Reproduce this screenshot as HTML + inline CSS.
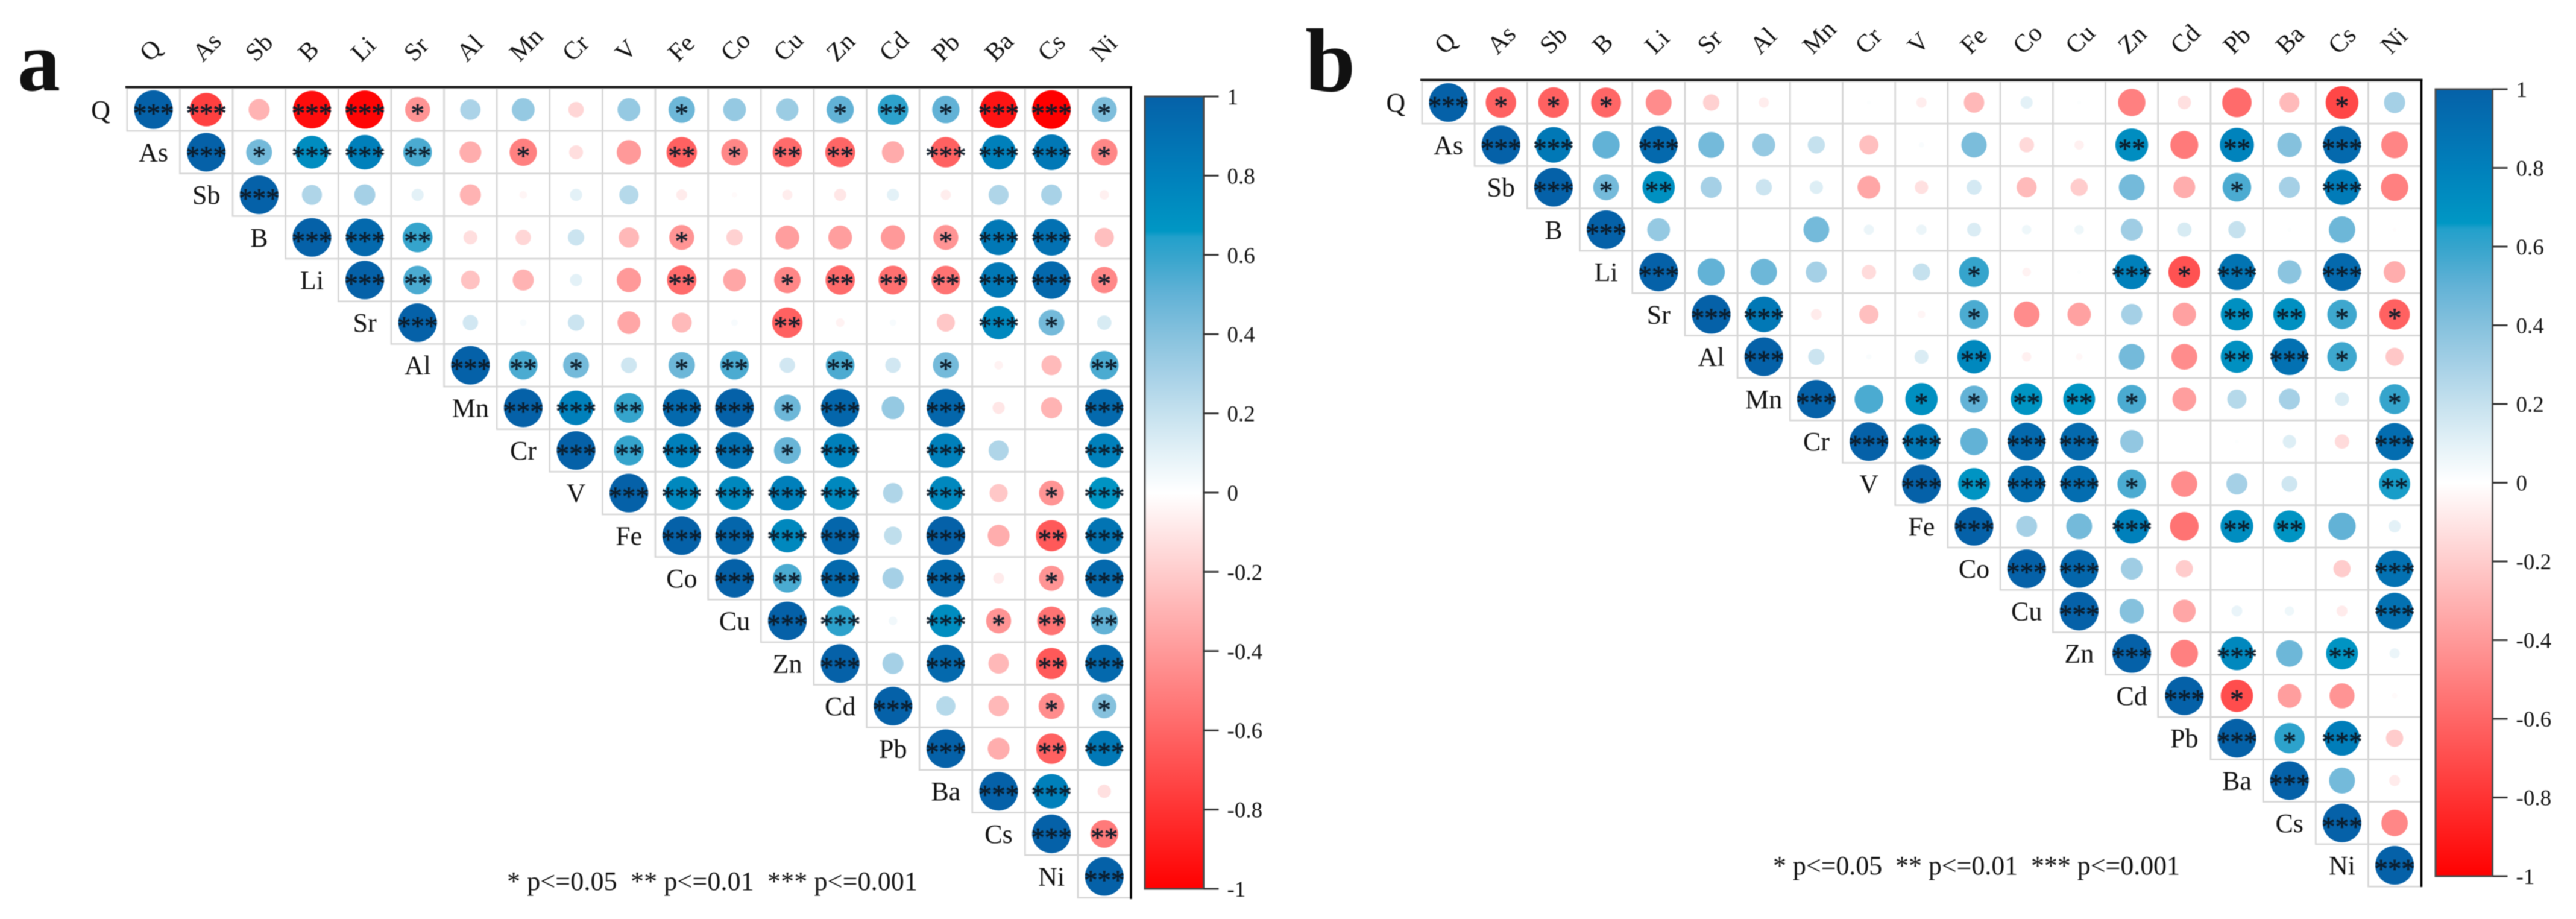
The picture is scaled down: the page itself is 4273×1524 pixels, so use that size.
<!DOCTYPE html>
<html lang="en">
<head>
<meta charset="utf-8">
<title>Correlation matrices a and b</title>
<style>
html,body{margin:0;padding:0;background:#fff;width:4273px;height:1524px;overflow:hidden}
svg{display:block;filter:blur(0.9px)}
text{font-family:"Liberation Serif",serif;fill:#111}
</style>
</head>
<body>
<svg id="chart" xmlns="http://www.w3.org/2000/svg" width="4273" height="1524" viewBox="0 0 4273 1524">
  <defs>
    <linearGradient id="cbGradient" x1="0" y1="0" x2="0" y2="1"></linearGradient>
  </defs>
  <rect x="0" y="0" width="4273" height="1524" fill="#ffffff"/>
  <text x="29" y="150" font-size="142" font-weight="bold" fill="#000">a</text>
  <text x="2165" y="151" font-size="150" font-weight="bold" fill="#000">b</text>
  <text x="841" y="1476" font-size="44" textLength="681" lengthAdjust="spacing">*&#160;p&lt;=0.05&#160;&#160;**&#160;p&lt;=0.01&#160;&#160;***&#160;p&lt;=0.001</text>
  <text x="2941" y="1450" font-size="44" textLength="675" lengthAdjust="spacing">*&#160;p&lt;=0.05&#160;&#160;**&#160;p&lt;=0.01&#160;&#160;***&#160;p&lt;=0.001</text>
</svg>
<script>
const categories = ["Q","As","Sb","B","Li","Sr","Al","Mn","Cr","V","Fe","Co","Cu","Zn","Cd","Pb","Ba","Cs","Ni"];
const colorbarTicks = [1,0.8,0.6,0.4,0.2,0,-0.2,-0.4,-0.6,-0.8,-1];
const colorbarTickLabels = ["1","0.8","0.6","0.4","0.2","0","-0.2","-0.4","-0.6","-0.8","-1"];

const panelAValues = [
[1,-.75,-.3,-.95,-.98,-.42,.28,.35,-.16,.35,.47,.35,.33,.5,.62,.5,-.92,-1,.42],
[1,.45,.72,.8,.55,-.32,-.5,-.13,-.4,-.62,-.47,-.58,-.6,-.33,-.62,.8,.85,-.47],
[1,.27,.3,.1,-.3,-.04,.1,.25,-.08,-.02,-.07,-.1,.1,-.07,.27,.29,-.06],
[1,.95,.6,-.13,-.16,.18,-.28,-.42,-.18,-.38,-.38,-.4,-.42,.85,.9,-.25],
[1,.55,-.24,-.3,.1,-.4,-.58,-.35,-.47,-.58,-.56,-.55,.85,.95,-.47],
[1,.16,.03,.18,-.35,-.27,.03,-.62,-.05,.03,-.22,.75,.45,.14],
[1,.55,.45,.17,.47,.55,.16,.55,.16,.45,-.05,-.27,.55],
[1,.8,.6,.95,1,.47,.97,.35,.97,-.1,-.3,.95],
[1,.6,.8,.9,.48,.8,0,.8,.27,0,.8],
[1,.75,.75,.8,.75,.27,.75,-.22,-.42,.68],
[1,.97,.75,.97,.22,1,-.32,-.65,.88],
[1,.55,.95,.3,.95,-.08,-.42,.95],
[1,.62,.05,.72,-.42,-.55,.5],
[1,.3,.95,-.28,-.65,.95],
[1,.25,-.28,-.45,.4],
[1,-.32,-.62,.85],
[1,.8,-.12],
[1,-.52],
[1]
];
const panelAStars = [
[3,3,0,3,3,1,0,0,0,0,1,0,0,1,2,1,3,3,1],
[3,1,3,3,2,0,1,0,0,2,1,2,2,0,3,3,3,1],
[3,0,0,0,0,0,0,0,0,0,0,0,0,0,0,0,0],
[3,3,2,0,0,0,0,1,0,0,0,0,1,3,3,0],
[3,2,0,0,0,0,2,0,1,2,2,2,3,3,1],
[3,0,0,0,0,0,0,2,0,0,0,3,1,0],
[3,2,1,0,1,2,0,2,0,1,0,0,2],
[3,3,2,3,3,1,3,0,3,0,0,3],
[3,2,3,3,1,3,0,3,0,0,3],
[3,3,3,3,3,0,3,0,1,3],
[3,3,3,3,0,3,0,2,3],
[3,2,3,0,3,0,1,3],
[3,3,0,3,1,2,2],
[3,0,3,0,2,3],
[3,0,0,1,1],
[3,0,2,3],
[3,3,0],
[3,2],
[3]
];

const panelBValues = [
[1,-.62,-.62,-.6,-.45,-.18,-.07,0,.01,-.07,-.28,.1,.01,-.5,-.12,-.58,-.27,-.72,.3],
[1,.85,.5,.95,.45,.35,.2,-.25,.02,.43,-.15,-.06,.72,-.52,.78,.4,.95,-.48],
[1,.45,.7,.3,.18,.12,-.35,-.12,.15,-.27,-.2,.45,-.32,.55,.3,.83,-.5],
[1,.35,0,0,.45,.07,.07,.13,.06,.06,.32,.14,.2,.01,.47,-.01],
[1,.5,.47,.3,-.14,.2,.6,-.05,.01,.8,-.68,.88,.38,.95,-.32],
[1,.85,-.08,-.25,-.04,.55,-.45,-.37,.3,-.37,.7,.7,.58,-.62],
[1,.18,.02,.13,.75,-.06,-.03,.45,-.45,.7,.9,.58,-.22],
[1,.55,.7,.5,.68,.68,.55,-.38,.25,.3,.13,.6],
[1,.85,.5,.95,.95,.36,0,.01,.12,-.14,.92],
[1,.68,.92,.92,.55,-.45,.3,.17,0,.65],
[1,.3,.45,.8,-.55,.72,.68,.5,.1],
[1,.97,.32,-.2,0,0,-.2,.9],
[1,.4,-.35,.08,.06,-.08,.9],
[1,-.5,.75,.47,.68,.07],
[1,-.7,-.38,-.42,-.02],
[1,.62,.82,-.2],
[1,.45,-.08],
[1,-.47],
[1]
];
const panelBStars = [
[3,1,1,1,0,0,0,0,0,0,0,0,0,0,0,0,0,1,0],
[3,3,0,3,0,0,0,0,0,0,0,0,2,0,2,0,3,0],
[3,1,2,0,0,0,0,0,0,0,0,0,0,1,0,3,0],
[3,0,0,0,0,0,0,0,0,0,0,0,0,0,0,0],
[3,0,0,0,0,0,1,0,0,3,1,3,0,3,0],
[3,3,0,0,0,1,0,0,0,0,2,2,1,1],
[3,0,0,0,2,0,0,0,0,2,3,1,0],
[3,0,1,1,2,2,1,0,0,0,0,1],
[3,3,0,3,3,0,0,0,0,0,3],
[3,2,3,3,1,0,0,0,0,2],
[3,0,0,3,0,2,2,0,0],
[3,3,0,0,0,0,0,3],
[3,0,0,0,0,0,3],
[3,0,3,0,2,0],
[3,1,0,0,0],
[3,1,3,0],
[3,0,0],
[3,0],
[3]
];

/* colormap stops: [value, css colour] */
const colorStops = [
[1,"#0561a8"],[0.8,"#0080bb"],[0.66,"#0097c4"],[0.645,"#22a0cb"],[0.6,"#35a4cc"],
[0.5,"#62b2d6"],[0.4,"#85c1dd"],[0.3,"#a5d0e6"],[0.2,"#c5e1ee"],[0.1,"#e3f1f7"],
[0,"#ffffff"],[-1,"#ff0000"]
];

const NS = "http://www.w3.org/2000/svg";
const svg = document.getElementById("chart");

function hexToRgb(h){return [parseInt(h.slice(1,3),16),parseInt(h.slice(3,5),16),parseInt(h.slice(5,7),16)];}
function colorFor(v){
  for(let i=0;i<colorStops.length-1;i++){
    const a=colorStops[i],b=colorStops[i+1];
    if(v<=a[0]&&v>=b[0]){
      const t=(a[0]-v)/(a[0]-b[0]);
      const ca=hexToRgb(a[1]),cb=hexToRgb(b[1]);
      return "rgb("+ca.map((c,k)=>Math.round(c+(cb[k]-c)*t)).join(",")+")";
    }
  }
  return v>0?colorStops[0][1]:colorStops[colorStops.length-1][1];
}
function make(tag,attrs,text){
  const el=document.createElementNS(NS,tag);
  for(const k in attrs){el.setAttribute(k,attrs[k]);}
  if(text!==undefined){el.textContent=text;}
  return el;
}

const grad=document.getElementById("cbGradient");
colorStops.forEach(function(s){
  grad.appendChild(make("stop",{offset:((1-s[0])/2*100)+"%","stop-color":s[1]}));
});

function drawPanel(p,values,stars){
  const xScale=function(c){return p.cx0+c*p.dx;};
  const yScale=function(r){return p.cy0+r*p.dy;};
  const radius=function(v){return p.maxD/2*Math.sqrt(Math.abs(v));};
  const cbY=function(v){return p.cbTop+(1-v)/2*(p.cbBottom-p.cbTop);};

  const g=make("g",{});
  
  
  svg.appendChild(g);

  categories.forEach(function(name,i){
    const sx=xScale(i)-6;
    const topLabel=make("text",{x:sx,y:p.topLabelY,"font-size":42,transform:"rotate(-45 "+sx+" "+p.topLabelY+")"},name);
    
    
    g.appendChild(topLabel);

    const rowLabel=make("text",{x:xScale(i-1),y:yScale(i)+15,"font-size":44,"text-anchor":"middle"},name);
    
    
    g.appendChild(rowLabel);
  });

  values.forEach(function(row,r){
    row.forEach(function(v,k){
      const c=r+k;
      const cell=make("rect",{x:xScale(c)-p.dx/2,y:yScale(r)-p.dy/2,width:p.dx,height:p.dy,fill:"none",stroke:"#d6d6d6","stroke-width":2.6});
      
      
      g.appendChild(cell);
    });
  });
  values.forEach(function(row,r){
    row.forEach(function(v,k){
      const c=r+k;
      const dot=make("circle",{cx:xScale(c),cy:yScale(r),r:radius(v),fill:colorFor(v)});
      
      
      g.appendChild(dot);
      const n=stars[r][k];
      if(n>0){
        const mark=make("text",{x:xScale(c),y:yScale(r)+21,"font-size":45,"text-anchor":"middle",style:"fill:#0c1a28;fill-opacity:.95;stroke:#0c1a28;stroke-opacity:.7;stroke-width:1"},"*".repeat(n));
        
        
        g.appendChild(mark);
      }
    });
  });

  const topAxis=make("line",{x1:p.axisLeft,x2:p.axisRight+2,y1:p.axisTop,y2:p.axisTop,stroke:"#000","stroke-width":3.5});
  
  
  g.appendChild(topAxis);
  const rightAxis=make("line",{x1:p.axisRight,x2:p.axisRight,y1:p.axisTop,y2:p.axisBottom,stroke:"#000","stroke-width":3.5});
  
  
  g.appendChild(rightAxis);

  const bar=make("rect",{x:p.cbLeft,y:p.cbTop,width:p.cbRight-p.cbLeft,height:p.cbBottom-p.cbTop,fill:"url(#cbGradient)",stroke:"#4a4a4a","stroke-width":3});
  
  
  g.appendChild(bar);

  colorbarTicks.forEach(function(v,i){
    const tick=make("line",{x1:p.cbRight,x2:p.cbRight+25,y1:cbY(v),y2:cbY(v),stroke:"#333","stroke-width":3});
    
    
    g.appendChild(tick);
    const lab=make("text",{x:p.cbRight+39,y:cbY(v)+13,"font-size":37},colorbarTickLabels[i]);
    
    
    g.appendChild(lab);
  });
}

drawPanel({id:"a",cx0:254.6,dx:87.62,cy0:181.8,dy:70.65,maxD:64,topLabelY:104,
  axisLeft:208,axisRight:1876,axisTop:144.5,axisBottom:1491,
  cbLeft:1899,cbRight:1996.5,cbTop:160,cbBottom:1474},panelAValues,panelAStars);

drawPanel({id:"b",cx0:2402.5,dx:87.2,cy0:170,dy:70.28,maxD:64,topLabelY:92,
  axisLeft:2356,axisRight:4016.5,axisTop:132.5,axisBottom:1471,
  cbLeft:4040,cbRight:4134.5,cbTop:148,cbBottom:1453},panelBValues,panelBStars);
</script>
</body>
</html>
